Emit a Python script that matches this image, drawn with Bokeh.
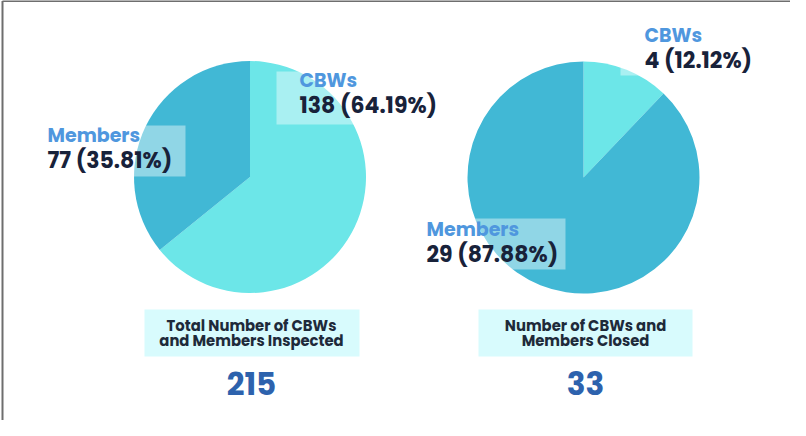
import math
from bokeh.plotting import figure
from bokeh.models import Range1d
from bokeh.embed import file_html
from bokeh.resources import INLINE
from bokeh.core.properties import value

# ---- data ----
categories = ["CBWs", "Members"]
inspected_values = [138, 77]
closed_values = [4, 29]
panel_titles = ["Total Number of CBWs\nand Members Inspected", "Number of CBWs and\nMembers Closed"]
panel_totals = [sum(inspected_values), sum(closed_values)]

W, H = 790, 420
p = figure(width=W, height=H, output_backend="svg", toolbar_location=None,
           x_range=Range1d(8, 8 + W), y_range=Range1d(0, H), min_border=0)
p.axis.visible = False
p.grid.visible = False
p.outline_line_color = None
p.background_fill_color = "white"

def Y(page_y):
    return 428 - page_y

# border (top + left)
p.line(x=[10, 798], y=[Y(8.5), Y(8.5)], line_color="#6e6e6e", line_width=2)
p.line(x=[10, 10], y=[Y(8.5), Y(428)], line_color="#6e6e6e", line_width=2)

colors = ["#6ce6e8", "#41b8d5"]
LABEL_BLUE = "#4f97de"
NUM_DARK = "#18223a"
FONT = value("Poppins, Open Sans")

def pie(cx, cy, r, vals):
    tot = sum(vals)
    start = math.pi / 2
    for v, c in zip(vals, colors):
        end = start - 2 * math.pi * v / tot
        p.wedge(x=cx, y=cy, radius=r, start_angle=start, end_angle=end,
                direction="clock", fill_color=c, line_color=None)
        start = end

pie(257.5, Y(184.5), 116, inspected_values)
pie(591, Y(185), 116, closed_values)

# label backgrounds (semi-transparent white)
boxes = [(284, 79, 455, 132), (50, 133, 193, 184), (628, 30, 775, 83), (428, 226, 573, 277)]
for x0, y0, x1, y1 in boxes:
    p.quad(left=x0, right=x1, top=Y(y0), bottom=Y(y1), fill_color="white",
           fill_alpha=0.42, line_color=None)

def pct(v, vals):
    return f"{v} ({100 * v / sum(vals):.2f}%)"

labels = [
    (307, 88, categories[0], pct(inspected_values[0], inspected_values)),
    (55, 143, categories[1], pct(inspected_values[1], inspected_values)),
    (652, 43, categories[0], pct(closed_values[0], closed_values)),
    (434, 237, categories[1], pct(closed_values[1], closed_values)),
]
for x, y, name, num in labels:
    p.text(x=[x], y=[Y(y)], text=[name], text_font=FONT, text_font_style="bold",
           text_font_size="19px", text_color=LABEL_BLUE, text_baseline="middle", text_align="left")
    p.text(x=[x], y=[Y(y + 25)], text=[num], text_font=FONT, text_font_style="bold",
           text_font_size="22px", text_color=NUM_DARK, text_baseline="middle", text_align="left")

# bottom panels
panels = [(152, 367, 259), (486, 700, 593)]
for (x0, x1, cx), title, tot in zip(panels, panel_titles, panel_totals):
    p.quad(left=x0, right=x1, top=Y(317), bottom=Y(364), fill_color="#d8fbfd", line_color=None)
    l1, l2 = title.split("\n")
    p.text(x=[cx, cx], y=[Y(332.5), Y(348)], text=[l1, l2], text_font=FONT,
           text_font_style="bold", text_font_size="14.8px", text_color="#1e2a3a",
           text_baseline="middle", text_align="center")
    p.text(x=[cx], y=[Y(391)], text=[str(tot)], text_font=FONT, text_font_style="bold",
           text_font_size="31px", text_color="#2d62ad", text_baseline="middle", text_align="center")

open("out.html", "w").write(file_html(p, INLINE))
